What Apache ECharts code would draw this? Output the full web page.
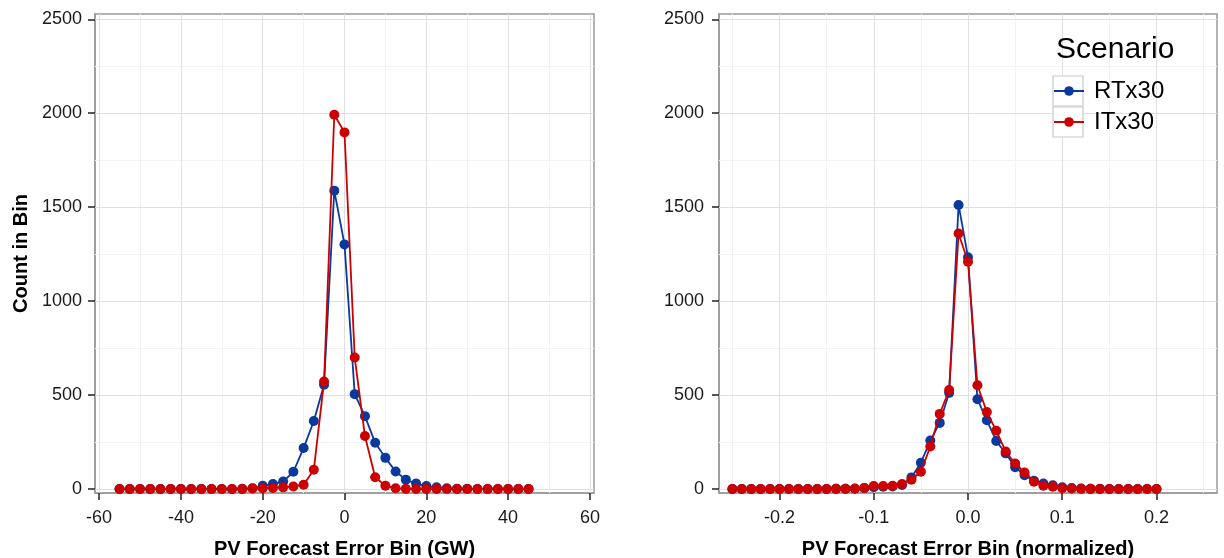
<!DOCTYPE html>
<html>
<head>
<meta charset="utf-8">
<script src="https://cdn.jsdelivr.net/npm/echarts@6/dist/echarts.min.js"></script>
<style>
  html, body { margin: 0; padding: 0; background: #ffffff; }
  #chart { width: 1224px; height: 558px; }
</style>
</head>
<body>
<div id="chart"></div>
<script>
// ---- data ----------------------------------------------------------------
const seriesNames = ['RTx30', 'ITx30'];

// forecast error bins in GW (2.5 GW wide)
const absBins = [-55, -52.5, -50, -47.5, -45, -42.5, -40, -37.5, -35, -32.5, -30, -27.5,
  -25, -22.5, -20, -17.5, -15, -12.5, -10, -7.5, -5, -2.5, 0, 2.5, 5, 7.5, 10, 12.5,
  15, 17.5, 20, 22.5, 25, 27.5, 30, 32.5, 35, 37.5, 40, 42.5, 45];
const absRT = [0, 0, 0, 0, 0, 0, 0, 0, 0, 0, 0, 0,
  1, 4, 17, 27, 40, 92, 218, 362, 555, 1588, 1302, 505, 388, 246, 166, 93,
  50, 29, 16, 9, 4, 2, 1, 0, 0, 0, 0, 0, 0];
const absIT = [0, 0, 0, 0, 0, 0, 0, 0, 0, 0, 0, 0,
  0, 3, 4, 6, 9, 14, 23, 103, 572, 1992, 1898, 700, 282, 63, 18, 4,
  1, 0, 0, 0, 0, 0, 0, 0, 0, 0, 0, 0, 0];

// forecast error bins, normalized (0.01 wide)
const normBins = [-0.25, -0.24, -0.23, -0.22, -0.21, -0.20, -0.19, -0.18, -0.17, -0.16,
  -0.15, -0.14, -0.13, -0.12, -0.11, -0.10, -0.09, -0.08, -0.07, -0.06, -0.05, -0.04,
  -0.03, -0.02, -0.01, 0.00, 0.01, 0.02, 0.03, 0.04, 0.05, 0.06, 0.07, 0.08, 0.09,
  0.10, 0.11, 0.12, 0.13, 0.14, 0.15, 0.16, 0.17, 0.18, 0.19, 0.20];
const normRT = [0, 0, 0, 0, 0, 0, 0, 0, 0, 0,
  0, 1, 1, 2, 5, 10, 12, 14, 22, 62, 140, 258,
  352, 512, 1512, 1234, 478, 366, 256, 190, 116, 74, 44, 30, 20,
  10, 5, 3, 1, 1, 0, 0, 0, 0, 0, 0];
const normIT = [0, 0, 0, 0, 0, 0, 0, 0, 0, 0,
  0, 1, 2, 3, 6, 16, 16, 17, 27, 50, 92, 226,
  400, 527, 1360, 1210, 552, 410, 310, 200, 136, 88, 39, 18, 12,
  5, 3, 1, 1, 0, 0, 0, 0, 0, 0, 0];

// axis breaks
const countTicks = [0, 500, 1000, 1500, 2000, 2500];
const countMinor = [250, 750, 1250, 1750, 2250];
const absTicks = [-60, -40, -20, 0, 20, 40, 60];
const absMinor = [-50, -30, -10, 10, 30, 50];
const normTicks = [-0.2, -0.1, 0, 0.1, 0.2];
const normMinor = [-0.25, -0.15, -0.05, 0.05, 0.15, 0.25];

// ---- styling ---------------------------------------------------------------
const FONT = '"Liberation Sans", Arial, sans-serif';
const lineColors = ['#0A399E', '#CC0000'];
const majorGrid = '#e0e0e0';
const minorGrid = '#f2f2f2';
const frameColor = '#9a9a9a';
const textColor = '#1a1a1a';
const tickStyle = { color: '#222', width: 1.5 };

function pairs(xs, ys) {
  return xs.map((x, i) => [x, ys[i]]);
}

function xAxisFor(gridIndex, min, max, ticks, name, fmt) {
  return {
    type: 'value', gridIndex, min, max, position: 'bottom',
    name, nameLocation: 'middle', nameGap: 46,
    nameTextStyle: { fontFamily: FONT, fontSize: 20, fontWeight: 'bold', color: '#000' },
    axisLine: { show: true, onZero: false, lineStyle: { color: frameColor, width: 1.5 } },
    axisTick: { show: true, length: 7, customValues: ticks, lineStyle: tickStyle },
    axisLabel: { customValues: ticks, margin: 16, fontFamily: FONT, fontSize: 18, color: textColor, formatter: fmt },
    splitLine: { show: false }
  };
}

function yAxisFor(gridIndex, name, margin) {
  return {
    type: 'value', gridIndex, min: -21, max: 2528, position: 'left',
    name, nameLocation: 'middle', nameGap: 64,
    nameTextStyle: { fontFamily: FONT, fontSize: 20, fontWeight: 'bold', color: '#000' },
    axisLine: { show: true, onZero: false, lineStyle: { color: frameColor, width: 1.5 } },
    axisTick: { show: true, length: 7, customValues: countTicks, lineStyle: tickStyle },
    axisLabel: { customValues: countTicks, margin, fontFamily: FONT, fontSize: 18, color: textColor, formatter: v => String(v) },
    splitLine: { show: false }
  };
}

// background grid lines (minor first, then major) drawn through each panel's scales
function panelGrid(idx, xMajor, xMinor, anchorX) {
  const ln = (key, v, color) => ({ [key]: v, lineStyle: { color, width: 1, type: 'solid' } });
  return {
    type: 'line', xAxisIndex: idx, yAxisIndex: idx, z: 1, silent: true,
    data: [[anchorX, 0]], showSymbol: false, lineStyle: { opacity: 0 },
    tooltip: { show: false },
    markLine: {
      z: 1, silent: true, animation: false, symbol: ['none', 'none'], label: { show: false },
      emphasis: { disabled: true },
      data: [
        ...xMinor.map(v => ln('xAxis', v, minorGrid)),
        ...countMinor.map(v => ln('yAxis', v, minorGrid)),
        ...xMajor.map(v => ln('xAxis', v, majorGrid)),
        ...countTicks.map(v => ln('yAxis', v, majorGrid))
      ]
    }
  };
}

function dataSeries(idx, k, xs, ys) {
  return {
    type: 'line', name: seriesNames[k], xAxisIndex: idx, yAxisIndex: idx, z: 3 + k,
    data: pairs(xs, ys),
    symbol: 'circle', symbolSize: 10, showSymbol: true, showAllSymbol: true,
    lineStyle: { color: lineColors[k], width: 1.8 },
    itemStyle: { color: lineColors[k] },
    emphasis: { disabled: true }
  };
}

const chart = echarts.init(document.getElementById('chart'), null, { renderer: 'canvas' });

const gridBase = {
  top: 14, height: 479, show: true, borderColor: frameColor, borderWidth: 1.5,
  backgroundColor: 'transparent', containLabel: false, outerBoundsMode: 'none'
};

chart.setOption({
  animation: false,
  backgroundColor: '#ffffff',
  grid: [
    Object.assign({ left: 95, width: 499 }, gridBase),
    Object.assign({ left: 719, width: 498 }, gridBase)
  ],
  xAxis: [
    xAxisFor(0, -61, 61, absTicks, 'PV Forecast Error Bin (GW)', v => String(v)),
    xAxisFor(1, -0.2642, 0.2642, normTicks, 'PV Forecast Error Bin (normalized)', v => v.toFixed(1))
  ],
  yAxis: [
    yAxisFor(0, 'Count in Bin', 13),
    yAxisFor(1, '', 15)
  ],
  title: {
    text: 'Scenario', left: 1056, top: 35, padding: 0,
    textStyle: { fontFamily: FONT, fontSize: 30, fontWeight: 'normal', color: '#000' }
  },
  legend: {
    data: seriesNames, orient: 'vertical', left: 1053, top: 76, padding: 0,
    itemWidth: 30, itemHeight: 12, itemGap: 1, selectedMode: false,
    textStyle: { fontFamily: FONT, fontSize: 24, color: '#000', lineHeight: 30, padding: [0, 0, 0, 5] }
  },
  graphic: [
    { type: 'rect', z: 3, shape: { x: 1053, y: 76, width: 30, height: 30 }, style: { fill: '#ffffff', stroke: '#c9c9c9', lineWidth: 1.2 } },
    { type: 'rect', z: 3, shape: { x: 1053, y: 107, width: 30, height: 30 }, style: { fill: '#ffffff', stroke: '#c9c9c9', lineWidth: 1.2 } }
  ],
  series: [
    panelGrid(0, absTicks, absMinor, 0),
    panelGrid(1, normTicks, normMinor, 0),
    dataSeries(0, 0, absBins, absRT),
    dataSeries(0, 1, absBins, absIT),
    dataSeries(1, 0, normBins, normRT),
    dataSeries(1, 1, normBins, normIT)
  ]
});
</script>
</body>
</html>
